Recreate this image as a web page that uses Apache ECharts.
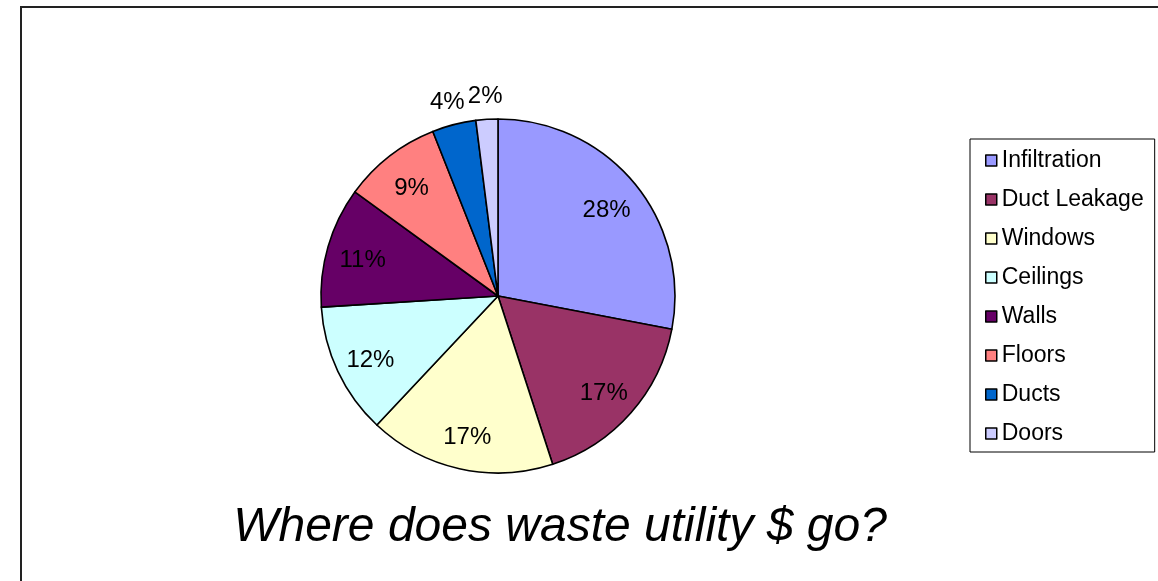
<!DOCTYPE html>
<html>
<head>
<meta charset="utf-8">
<script src="https://cdn.jsdelivr.net/npm/echarts@6/dist/echarts.min.js"></script>
<style>
  html, body { margin: 0; padding: 0; background: #fff; }
  #chart { width: 1158px; height: 581px; }
</style>
</head>
<body>
<div id="chart"></div>
<script>
// Share of wasted utility spending by source (percent)
const categories = ['Infiltration', 'Duct Leakage', 'Windows', 'Ceilings', 'Walls', 'Floors', 'Ducts', 'Doors'];
const shares = [28, 17, 17, 12, 11, 9, 4, 2];
const sliceColors = ['#9999FF', '#993366', '#FFFFCC', '#CCFFFF', '#660066', '#FF8080', '#0066CC', '#CCCCFF'];
// Small slices get their labels placed just outside the rim
const outsideLabelled = ['Ducts', 'Doors'];
const titleText = 'Where does waste utility $ go?';

const FONT = '"Liberation Sans", Arial, sans-serif';
const center = [498, 296];
const R = 177;

const pieData = categories.map((name, i) => ({
  name, value: shares[i], itemStyle: { color: sliceColors[i] }
}));

// Transparent label carriers: an "inside" label sits at the ring's mid radius
function labelRing(radius, showFor) {
  return {
    type: 'pie',
    center, radius,
    silent: true,
    clockwise: true,
    startAngle: 90,
    z: 5,
    itemStyle: { color: 'rgba(0,0,0,0)', borderWidth: 0 },
    labelLine: { show: false },
    emphasis: { disabled: true },
    data: categories.map((name, i) => ({
      name, value: shares[i],
      label: {
        show: showFor(name),
        position: 'inside',
        formatter: '{c}%',
        offset: [0, 4],
        color: '#000',
        fontFamily: FONT,
        fontSize: 24
      }
    }))
  };
}

const chart = echarts.init(document.getElementById('chart'), null, { renderer: 'canvas' });
chart.setOption({
  animation: false,
  backgroundColor: '#fff',
  legend: {
    orient: 'vertical',
    left: 970,
    top: 139,
    data: categories,
    borderColor: '#000',
    borderWidth: 1,
    padding: [10, 11, 7, 15],
    itemGap: 16,
    itemWidth: 11,
    itemHeight: 11,
    icon: 'rect',
    itemStyle: { borderColor: '#000', borderWidth: 1.5 },
    textStyle: { color: '#000', fontFamily: FONT, fontSize: 23 },
    selectedMode: false
  },
  series: [
    {
      type: 'pie',
      center,
      radius: R,
      clockwise: true,
      startAngle: 90,
      itemStyle: { borderColor: '#000', borderWidth: 1.6 },
      label: { show: false },
      labelLine: { show: false },
      emphasis: { disabled: true },
      data: pieData
    },
    labelRing([99, R], n => !outsideLabelled.includes(n)),
    labelRing([182, 220], n => outsideLabelled.includes(n))
  ],
  graphic: [
    {
      type: 'rect',
      shape: { x: 21, y: 7, width: 1400, height: 900 },
      style: { fill: 'none', stroke: '#222', lineWidth: 2 },
      silent: true
    },
    {
      type: 'text',
      x: 560,
      y: 528,
      style: {
        text: titleText,
        align: 'center',
        verticalAlign: 'middle',
        font: 'italic 48px ' + FONT,
        fill: '#000'
      },
      silent: true
    }
  ]
});
</script>
</body>
</html>
